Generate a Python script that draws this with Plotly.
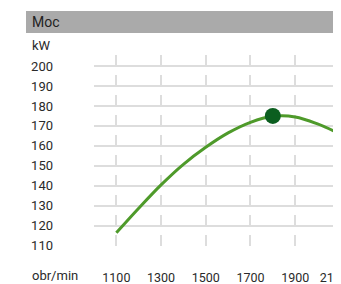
import plotly.graph_objects as go

rpm = [1100, 1200, 1300, 1400, 1500, 1600, 1700, 1800, 1900, 2000, 2100, 2105]
power_kw = [116.5, 128.8, 140.5, 150.8, 159.3, 166.5, 171.8, 174.8, 174.5, 171, 166, 165.7]
peak_rpm = [1800]
peak_kw = [175]
y_ticks = [110, 120, 130, 140, 150, 160, 170, 180, 190, 200]
x_ticks = [1100, 1300, 1500, 1700, 1900, 2100]
x_tick_labels = ["1100", "1300", "1500", "1700", "1900", "2100\u00a0\u00a0\u00a0\u00a0"]

FONT = "Roboto"
TXT = "#2a2a2a"
GRID = "#dddddd"

fig = go.Figure()
fig.add_trace(go.Scatter(x=rpm, y=power_kw, mode="lines",
                         line=dict(color="#4e9a2a", width=3, shape="spline", smoothing=1.0),
                         hoverinfo="skip"))
fig.add_trace(go.Scatter(x=peak_rpm, y=peak_kw, mode="markers",
                         marker=dict(color="#0b5e1f", size=16),
                         hoverinfo="skip"))

PW = 247.0
PH = 191.0

fig.update_layout(
    width=333, height=276,
    margin=dict(l=86, r=0, t=47, b=38, autoexpand=False),
    paper_bgcolor="white", plot_bgcolor="white",
    showlegend=False,
    font=dict(family=FONT, size=13, color=TXT),
    xaxis=dict(range=[1000, 2105], tickvals=x_ticks, ticktext=x_tick_labels,
               showgrid=True, gridcolor=GRID, gridwidth=2, griddash="11px,9px",
               zeroline=False, showline=False, ticks="", ticklabelstandoff=22,
               ticklabeloverflow="allow", automargin=False,
               tickfont=dict(family=FONT, size=12.5, color=TXT)),
    yaxis=dict(range=[109.9, 205.5], tickvals=y_ticks, ticktext=[str(v) for v in y_ticks],
               showgrid=True, gridcolor=GRID, gridwidth=2,
               zeroline=False, showline=False, ticks="", ticklabelstandoff=40,
               automargin=False,
               tickfont=dict(family=FONT, size=13, color=TXT)),
    shapes=[dict(type="rect", xref="paper", yref="paper",
                 x0=-68/PW, x1=1.0, y0=(246-33)/PH, y1=(246-11)/PH,
                 fillcolor="#aaaaaa", line=dict(width=0), layer="below")],
    annotations=[
        dict(text="Moc", xref="paper", yref="paper", x=-64/PW, y=(246-22)/PH,
             xanchor="left", yanchor="middle", showarrow=False,
             font=dict(family=FONT, size=14, color="#222222")),
        dict(text="kW", xref="paper", yref="paper", x=-64/PW, y=(246-45)/PH,
             xanchor="left", yanchor="middle", showarrow=False,
             font=dict(family=FONT, size=13, color=TXT)),
        dict(text="obr/min", xref="paper", yref="paper", x=-64/PW, y=(246-275)/PH,
             xanchor="left", yanchor="middle", showarrow=False,
             font=dict(family=FONT, size=13, color=TXT)),
    ],
)

fig.write_html("out.html")
